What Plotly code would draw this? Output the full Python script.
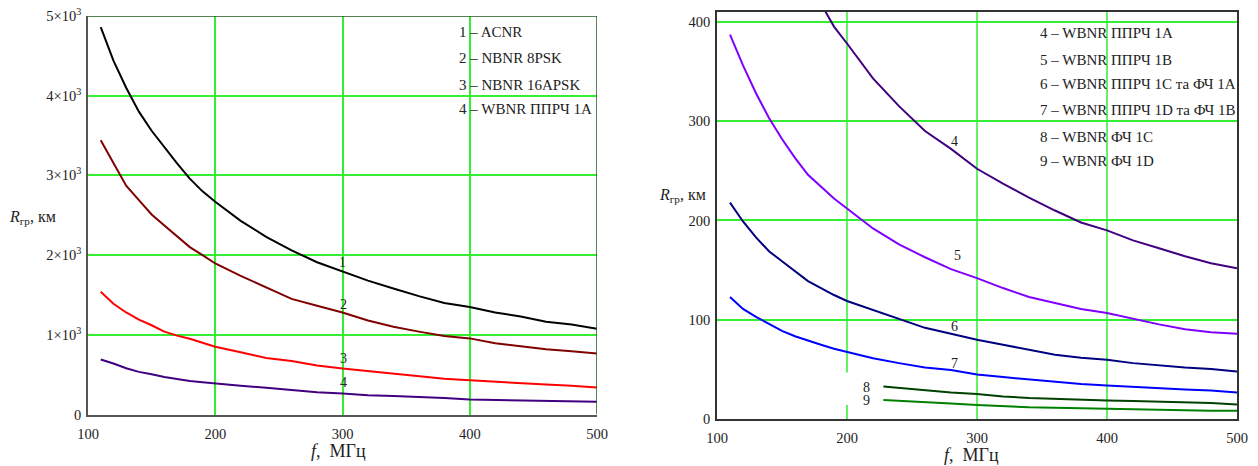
import plotly.graph_objects as go

# ---------------- data ----------------
f_left = [110, 120, 130, 140, 150, 160, 170, 180, 190, 200, 220, 240, 260, 280,
          300, 320, 340, 360, 380, 400, 420, 440, 460, 480, 500]
r_acnr = [4860, 4440, 4100, 3800, 3560, 3350, 3150, 2960, 2800, 2670, 2430, 2230, 2060, 1910,
          1800, 1680, 1580, 1485, 1400, 1350, 1280, 1230, 1165, 1130, 1075]
r_nbnr_8psk = [3440, 3150, 2870, 2690, 2510, 2370, 2230, 2100, 2000, 1895, 1740, 1590, 1450, 1365,
               1280, 1180, 1100, 1040, 985, 955, 895, 855, 820, 795, 766]
r_nbnr_16apsk = [1540, 1390, 1280, 1190, 1120, 1040, 990, 950, 900, 850, 780, 710, 670, 615,
                 577, 545, 505, 473, 450, 431, 410, 395, 375, 360, 340]
r_wbnr_1a_left = [690, 640, 580, 535, 505, 470, 445, 420, 405, 389, 360, 335, 305, 280,
                  264, 240, 232, 222, 208, 188, 182, 172, 165, 160, 159]

f_right_1a = [180, 190, 200, 210, 220, 240, 260, 280, 300, 320, 340, 360, 380, 400,
              420, 440, 460, 480, 500]
r_wbnr_1a = [418, 395, 378, 360, 343, 315, 290, 272, 252, 237, 223, 210, 198, 190,
             180, 172, 164, 157, 152]

f_right = [110, 120, 130, 140, 150, 160, 170, 180, 190, 200, 220, 240, 260, 280,
           300, 320, 340, 360, 380, 400, 420, 440, 460, 480, 500]
r_wbnr_1b = [387, 356, 328, 303, 282, 263, 246, 234, 222, 212, 192, 176, 163, 151,
             142, 132, 123, 117, 111, 107, 101, 95.5, 90.5, 87.5, 86]
r_wbnr_1c = [218, 199, 183, 169, 159, 149, 139, 132, 125, 119, 110, 101, 92, 86,
             80, 75, 70, 65, 62, 60, 56.5, 54, 52, 50.5, 48]
r_wbnr_1d = [123, 111, 103, 96, 89, 83.5, 79, 75, 71, 68, 61.5, 56.5, 52, 49.5,
             45, 42.5, 40, 38, 35.5, 34, 32.5, 31, 30, 29, 27]

f_right_fh = [228, 240, 260, 280, 300, 320, 340, 360, 380, 400, 420, 440, 460, 480, 500]
r_fh_1c = [33, 31.5, 29, 27, 25.5, 23, 21.5, 20.5, 19.5, 19, 18.5, 18, 17, 16.5, 15]
r_fh_1d = [19.5, 18.5, 17.2, 15.8, 14.5, 13, 12, 11.5, 11, 10.4, 10.2, 10, 8.8, 8.7, 8.7]

legend_left = ["1 – ACNR", "2 – NBNR 8PSK", "3 – NBNR 16APSK", "4 – WBNR ППРЧ 1A"]
legend_right = ["4 – WBNR ППРЧ 1A", "5 – WBNR ППРЧ 1B", "6 – WBNR ППРЧ 1C та ФЧ 1A",
                "7 – WBNR ППРЧ 1D та ФЧ 1B", "8 – WBNR ФЧ 1C", "9 – WBNR ФЧ 1D"]

x_ticks = [100, 200, 300, 400, 500]
y_ticks_left = [0, 1000, 2000, 3000, 4000, 5000]
y_ticktext_left = ["0", "1×10<sup>3</sup>", "2×10<sup>3</sup>", "3×10<sup>3</sup>",
                   "4×10<sup>3</sup>", "5×10<sup>3</sup>"]
y_ticks_right = [0, 100, 200, 300, 400]

# ---------------- figure ----------------
W, H = 1258, 466
FONT = "Liberation Serif"
GRID = "#33ee33"


def px(x):
    return x / W


def py(y):
    return 1 - y / H


fig = go.Figure()

left_series = [
    (f_left, r_acnr, "#000000"),
    (f_left, r_nbnr_8psk, "#800000"),
    (f_left, r_nbnr_16apsk, "#ff0000"),
    (f_left, r_wbnr_1a_left, "#400080"),
]
for xs, ys, c in left_series:
    fig.add_trace(go.Scatter(x=xs, y=ys, mode="lines", line=dict(color=c, width=2),
                             xaxis="x", yaxis="y", showlegend=False, hoverinfo="skip"))

right_series = [
    (f_right_1a, r_wbnr_1a, "#400080"),
    (f_right, r_wbnr_1b, "#8000ff"),
    (f_right, r_wbnr_1c, "#000080"),
    (f_right, r_wbnr_1d, "#0000ff"),
    (f_right_fh, r_fh_1c, "#004000"),
    (f_right_fh, r_fh_1d, "#008000"),
]
for xs, ys, c in right_series:
    fig.add_trace(go.Scatter(x=xs, y=ys, mode="lines", line=dict(color=c, width=2),
                             xaxis="x2", yaxis="y2", showlegend=False, hoverinfo="skip"))

tickfont = dict(family=FONT, size=14.5, color="#222222")

fig.update_layout(
    template="none",
    width=W, height=H, margin=dict(l=0, r=0, t=0, b=0, pad=0), autosize=False,
    paper_bgcolor="white", plot_bgcolor="white",
    font=dict(family=FONT, size=14, color="#222222"),
    xaxis=dict(domain=[px(88), px(597)], range=[100, 500], tickvals=x_ticks,
               showgrid=True, gridcolor=GRID, gridwidth=1.5, zeroline=False,
               showline=True, linecolor="#555555", linewidth=1.5, ticks="",
               tickfont=tickfont, anchor="y", ticklabelstandoff=5, automargin=False),
    yaxis=dict(domain=[py(414.5), py(16)], range=[0, 5000], tickvals=y_ticks_left,
               ticktext=y_ticktext_left, showgrid=True, gridcolor=GRID, gridwidth=1.5,
               zeroline=False, showline=True, linecolor="#555555", linewidth=1.5,
               ticks="", tickfont=tickfont, anchor="x", ticklabelstandoff=2,
               automargin=False),
    xaxis2=dict(domain=[px(717), px(1237)], range=[100, 500], tickvals=x_ticks,
                showgrid=False, zeroline=False, showline=True, mirror=True,
                linecolor="#333333", linewidth=1.5, ticks="", tickfont=tickfont,
                anchor="y2", ticklabelstandoff=5, automargin=False),
    yaxis2=dict(domain=[py(419.3), py(11.7)], range=[0, 410], tickvals=y_ticks_right,
                showgrid=True, gridcolor=GRID, gridwidth=1.5, zeroline=False,
                showline=True, mirror=True, linecolor="#333333", linewidth=1.5,
                ticks="", tickfont=tickfont, anchor="x2", ticklabelstandoff=2,
                automargin=False),
)

shapes = []
# right chart vertical grid lines (the 200 line is interrupted near curves 8/9)
for xv in [300, 400]:
    shapes.append(dict(type="line", xref="x2", yref="y2", x0=xv, x1=xv, y0=0, y1=410,
                       line=dict(color=GRID, width=1.5), layer="below"))
shapes.append(dict(type="line", xref="x2", yref="y2", x0=200, x1=200, y0=47, y1=410,
                   line=dict(color=GRID, width=1.5), layer="below"))
shapes.append(dict(type="line", xref="x2", yref="y2", x0=200, x1=200, y0=0, y1=14.5,
                   line=dict(color=GRID, width=1.5), layer="below"))
# left chart: top and right frame in dark green
shapes.append(dict(type="line", xref="x", yref="y", x0=100, x1=500, y0=5000, y1=5000,
                   line=dict(color="#1f5a1f", width=1.5)))
shapes.append(dict(type="line", xref="x", yref="y", x0=500, x1=500, y0=0, y1=5000,
                   line=dict(color="#1f5a1f", width=1.5)))
fig.update_layout(shapes=shapes)

ann = []
lab_font = dict(family=FONT, size=14, color="#222222")
leg_font = dict(family=FONT, size=15, color="#222222")

# legend-like text blocks
for txt, yy in zip(legend_left, [32, 57.7, 85, 109.3]):
    ann.append(dict(text=txt, xref="paper", yref="paper", x=px(457), y=py(yy),
                    xanchor="left", yanchor="middle", showarrow=False, font=leg_font))
for txt, yy in zip(legend_right, [32.7, 60, 84, 110, 137.3, 160.7]):
    ann.append(dict(text=txt, xref="paper", yref="paper", x=px(1038), y=py(yy),
                    xanchor="left", yanchor="middle", showarrow=False, font=leg_font))

# curve number labels
for t, xv, yv in [("1", 300, 1904), ("2", 301, 1385), ("3", 301, 703), ("4", 301, 402)]:
    ann.append(dict(text=t, xref="x", yref="y", x=xv, y=yv, showarrow=False, font=lab_font))
for t, xv, yv in [("4", 283, 280), ("5", 285, 165), ("6", 283, 94), ("7", 282.6, 57),
                  ("8", 215, 32.5), ("9", 215, 19)]:
    ann.append(dict(text=t, xref="x2", yref="y2", x=xv, y=yv, showarrow=False, font=lab_font,
                    height=12, valign="middle"))

# axis titles
title_font = dict(family=FONT, size=18, color="#222222")
ytitle_font = dict(family=FONT, size=16, color="#222222")
ann.append(dict(text="<i>f</i>,\u00a0\u00a0МГц", xref="paper", yref="paper", x=px(338), y=py(451),
                xanchor="center", yanchor="middle", showarrow=False, font=title_font))
ann.append(dict(text="<i>f</i>,\u00a0\u00a0МГц", xref="paper", yref="paper", x=px(971), y=py(455),
                xanchor="center", yanchor="middle", showarrow=False, font=title_font))
ann.append(dict(text="<i>R</i><sub>гр</sub>, км", xref="paper", yref="paper", x=px(7), y=py(217),
                xanchor="left", yanchor="middle", showarrow=False, font=ytitle_font))
ann.append(dict(text="<i>R</i><sub>гр</sub>, км", xref="paper", yref="paper", x=px(657), y=py(195),
                xanchor="left", yanchor="middle", showarrow=False, font=ytitle_font))

fig.update_layout(annotations=ann)

fig.write_html(
    "out.html",
    post_script="document.body.style.margin='0';document.body.style.overflow='hidden';",
)
